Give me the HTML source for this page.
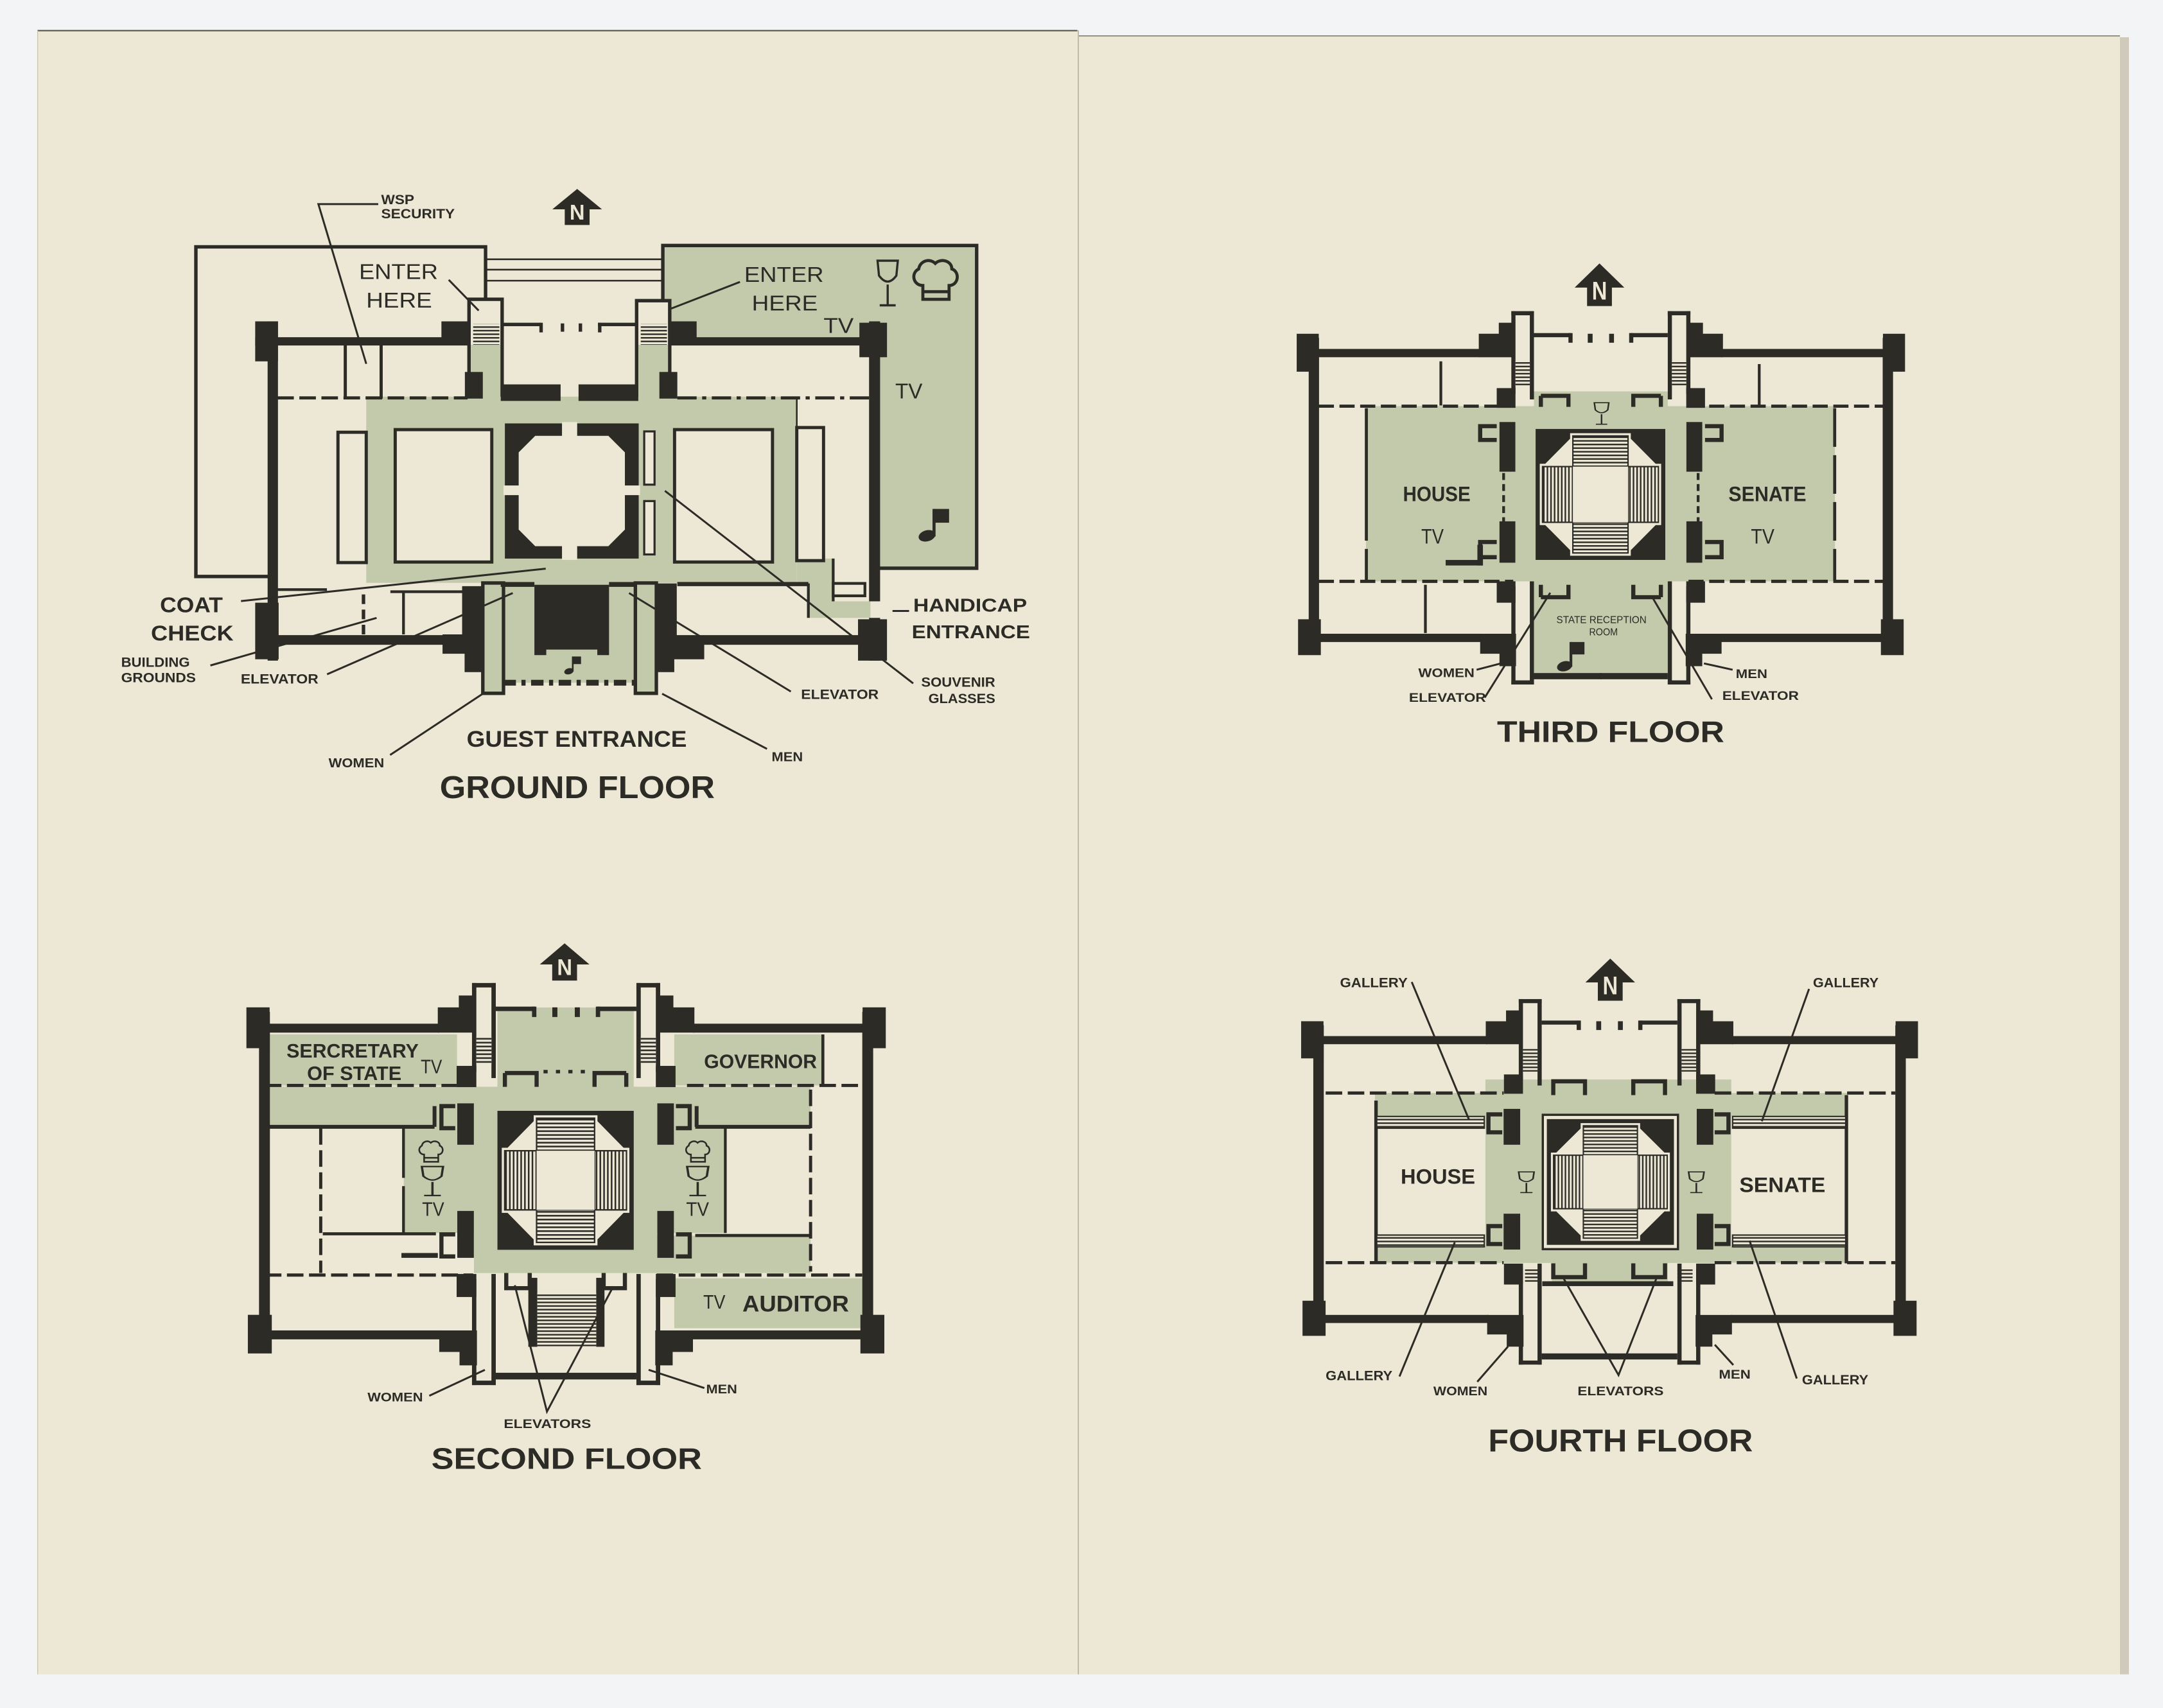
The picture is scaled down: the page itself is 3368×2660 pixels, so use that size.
<!DOCTYPE html>
<html><head><meta charset="utf-8">
<style>
html,body{margin:0;padding:0;background:#f3f4f5;}
svg{display:block}
text{font-family:"Liberation Sans",Arial,sans-serif;fill:#2c2b26}
.b{font-weight:bold}
.k{fill:#2c2b26}
.g{fill:#c3c9ab}
.p{fill:#ece8d5}
.s{fill:none;stroke:#2c2b26}
.ld{fill:none;stroke:#2c2b26;stroke-width:1.4}
</style></head><body>
<svg width="3368" height="2660" viewBox="0 0 1568 1238.4" preserveAspectRatio="none" xmlns="http://www.w3.org/2000/svg" xmlns:xlink="http://www.w3.org/1999/xlink">
<defs>
<pattern id="hs" patternUnits="userSpaceOnUse" width="8" height="2.6"><rect width="8" height="2.6" fill="#ece8d5"/><rect width="8" height="1.1" fill="#2c2b26"/></pattern>
<pattern id="vs" patternUnits="userSpaceOnUse" width="2.6" height="8"><rect width="2.6" height="8" fill="#ece8d5"/><rect width="1.1" height="8" fill="#2c2b26"/></pattern>

<g id="half" class="k">
 <rect x="948.7" y="245" width="7.5" height="226"/>
 <rect x="940" y="242" width="16" height="27.5"/>
 <rect x="941" y="449" width="16.5" height="26"/>
 <rect x="956" y="253" width="117" height="6"/>
 <rect x="956" y="459.5" width="118" height="6"/>
 <polygon points="1072,259 1072,242 1086.5,242 1086.5,234 1097,234 1097,259"/>
 <polygon points="1073,459.5 1099,459.5 1099,483 1087,483 1087,474 1073,474"/>
 <rect x="1085" y="281.4" width="13.6" height="14.3"/>
 <rect x="1085" y="421.5" width="13.6" height="15.5"/>
 <rect x="1095.6" y="225.6" width="3" height="60"/>
 <rect x="1109" y="225.6" width="3" height="64"/>
 <rect x="1095.6" y="225.6" width="16.4" height="3"/>
 <rect x="1095.6" y="425" width="3" height="71.3"/>
 <rect x="1109" y="421.5" width="3" height="74.8"/>
 <rect x="1095.6" y="493.3" width="16.4" height="3"/>
 <rect x="1098.6" y="262" width="10.4" height="18" fill="url(#hs)"/>
 <rect x="1112" y="241.5" width="27" height="3"/>
 <rect x="1137" y="241.5" width="3" height="7"/>
 <rect x="1151" y="242" width="3.5" height="6.5"/>
 <rect x="1112" y="488" width="49" height="4.5"/>
</g>
<g id="shell"><use href="#half" xlink:href="#half"/><use href="#half" xlink:href="#half" transform="matrix(-1 0 0 1 2321 0)"/></g>

<g id="rot">
 <rect x="-47" y="-47" width="94" height="94" class="k"/>
 <polygon class="p" points="-22,-44 22,-44 22,-40 40,-22 44,-22 44,22 40,22 22,40 22,44 -22,44 -22,40 -40,22 -44,22 -44,-22 -40,-22 -22,-40"/>
 <rect x="-20" y="-42" width="40" height="22" fill="url(#hs)" stroke="#2c2b26" stroke-width="1"/>
 <rect x="-20" y="20" width="40" height="22" fill="url(#hs)" stroke="#2c2b26" stroke-width="1"/>
 <rect x="-42" y="-20" width="22" height="40" fill="url(#vs)" stroke="#2c2b26" stroke-width="1"/>
 <rect x="20" y="-20" width="22" height="40" fill="url(#vs)" stroke="#2c2b26" stroke-width="1"/>
 <rect x="-20" y="-20" width="40" height="40" class="p"/>
</g>

<g id="glass" fill="none" stroke="#2c2b26" stroke-width="1.5"><path d="M-7,0 H7 L6,10 Q0,18 -6,10 Z"/><path d="M0,16 V30 M-5.5,30 H5.5"/></g>
<g id="chef" fill="none" stroke="#2c2b26" stroke-width="2.2"><path d="M9,29 V19 C2,19 0,10 6,7 C7,1 14,-1 18,3 C22,-1 30,1 30,7 C36,9 35,19 28,19 V29 Z"/><path d="M9,23.5 H28"/></g>
<g id="note" class="k"><rect x="13" y="0" width="11" height="10"/><rect x="12" y="0" width="2.2" height="20"/><ellipse cx="8" cy="19.5" rx="6.2" ry="4" transform="rotate(-15 8 19.5)"/></g>
<g id="narrow"><polygon class="k" points="0,0 -18,17 -9,17 -9,30 9,30 9,17 18,17"/><text x="-5.5" y="25.5" class="b" font-size="18" textLength="11" lengthAdjust="spacingAndGlyphs" style="fill:#ece8d5">N</text></g>
</defs>

<!-- PAGES -->
<rect x="27" y="21.9" width="754.7" height="1192.1" class="p"/>
<rect x="781.7" y="25.6" width="755.1" height="1188.4" class="p"/>
<rect x="1536.8" y="27" width="6.5" height="1187" fill="#cfcabb"/>
<path d="M27,22.2 H781" stroke="#5a5547" stroke-width="1"/>
<path d="M781.7,26 H1536.8" stroke="#8a8572" stroke-width="0.8"/>
<path d="M781.7,22 V1214" stroke="#bdb8a5" stroke-width="0.9"/>
<path d="M27.3,22 V1214" stroke="#c8c3b0" stroke-width="0.6"/>

<!-- ================= GROUND FLOOR ================= -->
<rect x="480.5" y="178" width="227.5" height="234" class="g" stroke="#2c2b26" stroke-width="2.5"/>
<path d="M197,418 H142 V179 H352 V217" class="s" stroke-width="2.5"/>
<path d="M352,188 H480.5 M352,195.5 H480.5 M352,203.5 H480.5" class="s" stroke-width="1.2"/>
<rect x="197" y="247" width="436" height="216" class="p"/>
<rect x="340" y="217" width="24" height="72" class="p" stroke="#2c2b26" stroke-width="2.5"/>
<rect x="461.5" y="218" width="24" height="71" class="p" stroke="#2c2b26" stroke-width="2.5"/>
<rect x="341.3" y="250" width="21.4" height="40" class="g"/>
<rect x="462.8" y="250" width="21.4" height="40" class="g"/>
<rect x="343" y="235" width="19" height="15" fill="url(#hs)"/>
<rect x="464.5" y="235" width="19" height="15" fill="url(#hs)"/>
<rect x="265.5" y="287.6" width="312" height="135" class="g"/>
<rect x="350" y="422" width="126" height="73" class="g"/>
<polygon class="g" points="577.6,405 604,405 604,436 631,436 631,448 586,448 586,422.5 577.6,422.5"/>
<g class="p" stroke="#2c2b26" stroke-width="2.3">
 <rect x="245" y="313.4" width="20.5" height="94.5"/>
 <rect x="286.5" y="311.5" width="70" height="96"/>
 <rect x="489" y="311.5" width="71" height="96"/>
 <rect x="577.6" y="310" width="19.4" height="96.5"/>
</g>
<g class="p" stroke="#2c2b26" stroke-width="1.5">
 <rect x="467" y="312.8" width="7.5" height="38.6"/>
 <rect x="467" y="363.3" width="7.5" height="38.7"/>
</g>
<rect x="366" y="307" width="97" height="98" class="k"/>
<polygon class="p" points="388,316 441,316 453,328 453,384 441,396 388,396 376,384 376,328"/>
<rect class="p" x="407.4" y="306" width="11" height="11"/>
<rect class="p" x="407.4" y="395" width="11" height="11"/>
<rect class="p" x="365" y="352" width="12" height="7"/>
<rect class="p" x="452" y="352" width="12" height="7"/>
<rect x="350" y="422.7" width="15" height="80" class="g" stroke="#2c2b26" stroke-width="2.5"/>
<rect x="460.6" y="422.7" width="15.2" height="80" class="g" stroke="#2c2b26" stroke-width="2.5"/>
<g class="k">
 <rect x="363" y="278.7" width="43.4" height="12"/>
 <rect x="419.4" y="278.7" width="43.3" height="12"/>
 <rect x="337" y="269.7" width="13" height="19.3"/>
 <rect x="478" y="269.7" width="13" height="19.3"/>
 <rect x="185" y="244.5" width="155" height="6"/>
 <rect x="185" y="233" width="16.5" height="29"/>
 <rect x="320" y="233" width="20" height="17"/>
 <rect x="194" y="233" width="7.5" height="246"/>
 <rect x="185" y="437" width="17" height="41"/>
 <rect x="201" y="460.5" width="120" height="7"/>
 <polygon points="320.8,460 335,460 335,425 351,425 351,487.3 336.8,487.3 336.8,474 320.8,474"/>
 <rect x="486" y="244.5" width="150" height="6"/>
 <rect x="486" y="233" width="19" height="17"/>
 <rect x="630" y="233" width="8" height="203"/>
 <rect x="630" y="448" width="8" height="31"/>
 <rect x="623" y="234" width="20" height="25"/>
 <rect x="622" y="449" width="21" height="30"/>
 <rect x="490" y="460.5" width="140" height="7"/>
 <polygon points="510.5,461 490.6,461 490.6,423 475,423 475,487.3 488.8,487.3 488.8,478 510.5,478"/>
 <polygon points="387.4,424 441.5,424 441.5,475 433,475 433,471 396,471 396,475 387.4,475"/>
 <rect x="363" y="422" width="24.4" height="3.5"/>
 <rect x="441.5" y="422" width="20" height="3.5"/>
 <rect x="365" y="234" width="27" height="2.5"/>
 <rect x="391" y="234" width="2.5" height="7"/>
 <rect x="406.5" y="234.5" width="2.5" height="6"/>
 <rect x="419.5" y="234.5" width="2.5" height="6"/>
 <rect x="433.5" y="234" width="2.5" height="7"/>
 <rect x="433.5" y="234" width="27" height="2.5"/>
</g>
<path class="s" stroke-width="4.2" stroke-dasharray="9 4 3 4" d="M365,495 H460.6"/>
<path class="s" stroke-width="2.3" stroke-dasharray="12 4" d="M201,288.5 H339"/>
<path class="s" stroke-width="2.3" stroke-dasharray="14 4 3 4" d="M491,288.5 H630"/>
<path class="s" stroke-width="2.3" d="M250.3,250 V289 M276.3,250 V289"/>
<path class="s" stroke-width="1.2" d="M577.6,289 V310"/>
<path class="s" stroke-width="2" d="M201,427.5 H237 M283,429 H337 M292.5,429 V460 M586,423 V448 M604,405 V436"/>
<path class="s" stroke-width="3" d="M491,423.5 H586"/>
<path class="s" stroke-width="2.5" stroke-dasharray="7 4" d="M263.5,431 V460"/>
<rect x="604" y="423" width="23" height="9" class="p" stroke="#2c2b26" stroke-width="2"/>
<use href="#glass" xlink:href="#glass" transform="translate(643.5,189) scale(1.05,1.08)"/>
<use href="#chef" xlink:href="#chef" transform="translate(660,188)"/>
<use href="#note" xlink:href="#note" transform="translate(664,369)"/>
<use href="#note" xlink:href="#note" transform="translate(408,476) scale(0.55)"/>
<use href="#narrow" xlink:href="#narrow" transform="translate(418.4,137) scale(1,0.87)"/>

<!-- ground leaders -->
<path class="ld" d="M274.2,148 H230.8 L265.5,263.8"/>
<path class="ld" d="M325.3,202.9 L347,225.2"/>
<path class="ld" d="M536.4,204.4 L486.6,223.7"/>
<path class="ld" d="M174.7,435.8 L395.6,412.3"/>
<path class="ld" d="M152.5,482.5 L273,448"/>
<path class="ld" d="M237.1,488.9 L371.7,430"/>
<path class="ld" d="M573.3,501.4 L456,430"/>
<path class="ld" d="M662,495.5 L482,355.9"/>
<path class="ld" d="M282.8,547.4 L350,503"/>
<path class="ld" d="M556,543 L480,503"/>
<path class="ld" d="M647,443 H659"/>

<!-- ground text -->
<text x="276.3" y="148" class="b" font-size="10" textLength="24" lengthAdjust="spacingAndGlyphs">WSP</text>
<text x="276.3" y="158.4" class="b" font-size="10" textLength="53.4" lengthAdjust="spacingAndGlyphs">SECURITY</text>
<text x="260.3" y="202.3" font-size="15.7" textLength="57.2" lengthAdjust="spacingAndGlyphs">ENTER</text>
<text x="265.5" y="223.1" font-size="15.7" textLength="47.7" lengthAdjust="spacingAndGlyphs">HERE</text>
<text x="539.5" y="204.4" font-size="15.7" textLength="57.6" lengthAdjust="spacingAndGlyphs">ENTER</text>
<text x="545" y="225.2" font-size="15.7" textLength="47.8" lengthAdjust="spacingAndGlyphs">HERE</text>
<text x="597" y="241.5" font-size="15.5" textLength="21.8" lengthAdjust="spacingAndGlyphs">TV</text>
<text x="649" y="289" font-size="15.5" textLength="19.7" lengthAdjust="spacingAndGlyphs">TV</text>
<text x="116" y="444" class="b" font-size="15.5" textLength="45.5" lengthAdjust="spacingAndGlyphs">COAT</text>
<text x="109.4" y="464.3" class="b" font-size="15.5" textLength="59.9" lengthAdjust="spacingAndGlyphs">CHECK</text>
<text x="87.8" y="483.6" class="b" font-size="10" textLength="49.8" lengthAdjust="spacingAndGlyphs">BUILDING</text>
<text x="87.8" y="494.6" class="b" font-size="10" textLength="54.2" lengthAdjust="spacingAndGlyphs">GROUNDS</text>
<text x="174.5" y="495.5" class="b" font-size="10" textLength="56.3" lengthAdjust="spacingAndGlyphs">ELEVATOR</text>
<text x="662" y="443.5" class="b" font-size="13.5" textLength="82.5" lengthAdjust="spacingAndGlyphs">HANDICAP</text>
<text x="660.9" y="462.8" class="b" font-size="13.5" textLength="85.8" lengthAdjust="spacingAndGlyphs">ENTRANCE</text>
<text x="580.7" y="506.8" class="b" font-size="10" textLength="56.3" lengthAdjust="spacingAndGlyphs">ELEVATOR</text>
<text x="667.8" y="497.9" class="b" font-size="10" textLength="53.7" lengthAdjust="spacingAndGlyphs">SOUVENIR</text>
<text x="673" y="509.7" class="b" font-size="10" textLength="48.5" lengthAdjust="spacingAndGlyphs">GLASSES</text>
<text x="338.3" y="541.5" class="b" font-size="16.5" textLength="159.6" lengthAdjust="spacingAndGlyphs">GUEST ENTRANCE</text>
<text x="238.2" y="556.4" class="b" font-size="9.5" textLength="40.3" lengthAdjust="spacingAndGlyphs">WOMEN</text>
<text x="559.4" y="551.9" class="b" font-size="9.5" textLength="22.6" lengthAdjust="spacingAndGlyphs">MEN</text>
<text x="318.8" y="578.6" class="b" font-size="22.7" textLength="199.4" lengthAdjust="spacingAndGlyphs">GROUND FLOOR</text>

<!-- ================= THIRD FLOOR ================= -->
<rect x="990.2" y="294.5" width="340" height="127" class="g"/>
<rect x="1112" y="283.8" width="97" height="12" class="g"/>
<rect x="1112" y="421" width="97" height="67.5" class="g"/>
<path class="s" stroke-width="2.3" stroke-dasharray="11 4" d="M956,294.5 H1097 M1224,294.5 H1365 M956,421.5 H1097 M1224,421.5 H1365"/>
<path class="s" stroke-width="2.2" d="M990.5,296 V392 M990.5,398 V421"/>
<path class="s" stroke-width="2.2" stroke-dasharray="28 6" d="M1330,296 V421"/>
<path class="s" stroke-width="2" d="M1044.5,262 V294 M1275.3,264 V294 M1033.3,424 V459"/>
<g class="k"><rect x="1048" y="406" width="27" height="4"/><rect x="1071" y="395" width="4" height="15"/>
 <rect x="1087" y="306" width="11.5" height="36"/><rect x="1087" y="378" width="11.5" height="30"/>
 <rect x="1222.5" y="306" width="11.5" height="36"/><rect x="1222.5" y="378" width="11.5" height="30"/></g>
<path class="s" stroke-width="3" d="M1085,309 H1073 V319 H1085 M1085,393 H1073 V404 H1085 M1236,309 H1248 V319 H1236 M1236,393 H1248 V404 H1236"/>
<path class="s" stroke-width="3" d="M1117,287 H1137 V295 M1117,287 V295 M1204,287 H1184 V295 M1204,287 V295 M1117,433 H1137 V424 M1117,433 V424 M1204,433 H1184 V424 M1204,433 V424"/>
<path class="s" stroke-width="2" stroke-dasharray="5 3" d="M1090,343 V379 M1231,343 V379"/>
<use href="#rot" xlink:href="#rot" transform="translate(1160.2,358.5) scale(1,1.01)"/>
<use href="#shell" xlink:href="#shell"/>
<use href="#glass" xlink:href="#glass" transform="translate(1161,292) scale(0.75,0.52)"/>
<use href="#note" xlink:href="#note" transform="translate(1127,465.5) scale(0.9)"/>
<use href="#narrow" xlink:href="#narrow" transform="translate(1159.5,191) scale(1,1.03)"/>
<path class="ld" d="M1070.4,485.6 L1088,481"/>
<path class="ld" d="M1076.3,505.8 L1123.8,429.8"/>
<path class="ld" d="M1256,485.6 L1235.2,481"/>
<path class="ld" d="M1241,507 L1198,433.4"/>
<text x="1017" y="363.3" class="b" font-size="15" textLength="49" lengthAdjust="spacingAndGlyphs">HOUSE</text>
<text x="1030.3" y="394.2" font-size="15" textLength="16.3" lengthAdjust="spacingAndGlyphs">TV</text>
<text x="1253" y="363.3" class="b" font-size="15" textLength="56.4" lengthAdjust="spacingAndGlyphs">SENATE</text>
<text x="1269.3" y="394.2" font-size="15" textLength="17" lengthAdjust="spacingAndGlyphs">TV</text>
<text x="1128.3" y="451.9" font-size="7.5" textLength="65.3" lengthAdjust="spacingAndGlyphs">STATE RECEPTION</text>
<text x="1152" y="460.7" font-size="7.5" textLength="20.8" lengthAdjust="spacingAndGlyphs">ROOM</text>
<text x="1028.2" y="490.9" class="b" font-size="9" textLength="40.7" lengthAdjust="spacingAndGlyphs">WOMEN</text>
<text x="1021.4" y="508.9" class="b" font-size="9" textLength="55.8" lengthAdjust="spacingAndGlyphs">ELEVATOR</text>
<text x="1258.3" y="491.6" class="b" font-size="9" textLength="22.9" lengthAdjust="spacingAndGlyphs">MEN</text>
<text x="1248.5" y="507.5" class="b" font-size="9" textLength="55.5" lengthAdjust="spacingAndGlyphs">ELEVATOR</text>
<text x="1085.2" y="537.9" class="b" font-size="21.5" textLength="164.8" lengthAdjust="spacingAndGlyphs">THIRD FLOOR</text>

<!-- ================= SECOND FLOOR ================= -->
<rect x="192.3" y="750" width="139" height="37" class="g"/>
<rect x="192.3" y="788" width="395.3" height="28" class="g"/>
<rect x="360.6" y="730.5" width="98.8" height="58.5" class="g"/>
<rect x="488.8" y="750" width="106.5" height="37" class="g"/>
<rect x="292.7" y="815" width="233.1" height="79" class="g"/>
<rect x="343.6" y="788" width="132.8" height="135" class="g"/>
<rect x="343.6" y="896" width="244" height="27" class="g"/>
<rect x="488.8" y="926.8" width="137.4" height="36.2" class="g"/>
<path class="s" stroke-width="2.3" stroke-dasharray="12 4" d="M192,787 H331 M192,924.5 H343 M498,787 H625 M476,924.5 H625 M232.5,818 V923 M587.6,790 V922"/>
<path class="s" stroke-width="2.2" d="M234,894.6 H316 M596.5,750 V787 M504,895.8 H587.6"/>
<path class="s" stroke-width="2.8" d="M193,817 H315 M315,802 V817 M504,817 H587.6 M505,802 V817"/>
<path class="s" stroke-width="2" d="M292.5,818 V854 M292.5,860 V894 M525.8,818 V894"/>
<rect class="k" x="291" y="908.5" width="26.4" height="3.5"/>
<g class="k">
 <rect x="331.5" y="800" width="12" height="30"/><rect x="331.5" y="878" width="12" height="34"/>
 <rect x="476.5" y="800" width="12" height="30"/><rect x="476.5" y="878" width="12" height="34"/>
 <rect x="383" y="926.5" width="6.5" height="50"/><rect x="432.2" y="926.5" width="6" height="50"/>
</g>
<path class="s" stroke-width="3" d="M330,802 H320 V818 H330 M330,895 H320 V911 H330 M490,802 H500 V818 H490 M490,895 H500 V911 H490"/>
<path class="s" stroke-width="3" d="M366,778 H389 V788 M366,778 V788 M454,778 H431 V788 M454,778 V788 M367,923 V934 H384 V923 M453,923 V934 H437.6 V923"/>
<path class="s" stroke-width="2.5" stroke-dasharray="3 6" d="M394,777 H430"/>
<rect x="389.5" y="937.3" width="42.7" height="38.8" fill="url(#hs)"/>
<use href="#rot" xlink:href="#rot" transform="translate(410,855.8) scale(1.051,1.072)"/>
<use href="#shell" xlink:href="#shell" transform="translate(410.9,856.4) scale(1.051,1.077) translate(-1161,-359)"/>
<use href="#chef" xlink:href="#chef" transform="translate(302.6,827) scale(0.54,0.53)"/>
<use href="#glass" xlink:href="#glass" transform="translate(313.5,845.8) scale(1.1,0.7)"/>
<use href="#chef" xlink:href="#chef" transform="translate(496,827) scale(0.54,0.53)"/>
<use href="#glass" xlink:href="#glass" transform="translate(505.8,845.8) scale(1.1,0.7)"/>
<use href="#narrow" xlink:href="#narrow" transform="translate(409.3,684) scale(1,0.9)"/>
<path class="ld" d="M311.2,1012 L351.5,993.2"/>
<path class="ld" d="M510.6,1006.4 L470.2,993.2"/>
<path class="ld" d="M373.2,931.9 L396.5,1023.5 L444.6,932.7"/>
<text x="207.7" y="766.7" class="b" font-size="14.3" textLength="95.8" lengthAdjust="spacingAndGlyphs">SERCRETARY</text>
<text x="222.6" y="783" class="b" font-size="14.3" textLength="68.5" lengthAdjust="spacingAndGlyphs">OF STATE</text>
<text x="305" y="778.3" font-size="14.3" textLength="15.5" lengthAdjust="spacingAndGlyphs">TV</text>
<text x="510.4" y="774.4" class="b" font-size="14.3" textLength="81.8" lengthAdjust="spacingAndGlyphs">GOVERNOR</text>
<text x="306" y="881.6" font-size="14.3" textLength="16" lengthAdjust="spacingAndGlyphs">TV</text>
<text x="497.4" y="881.6" font-size="14.3" textLength="16.6" lengthAdjust="spacingAndGlyphs">TV</text>
<text x="509.8" y="948.8" font-size="14.3" textLength="16" lengthAdjust="spacingAndGlyphs">TV</text>
<text x="538.2" y="950.9" class="b" font-size="16.5" textLength="77.2" lengthAdjust="spacingAndGlyphs">AUDITOR</text>
<text x="266.4" y="1016" class="b" font-size="9" textLength="40.2" lengthAdjust="spacingAndGlyphs">WOMEN</text>
<text x="511.9" y="1010.3" class="b" font-size="9" textLength="22.5" lengthAdjust="spacingAndGlyphs">MEN</text>
<text x="365.2" y="1035.3" class="b" font-size="9" textLength="63.3" lengthAdjust="spacingAndGlyphs">ELEVATORS</text>
<text x="312.7" y="1065" class="b" font-size="21.6" textLength="196.1" lengthAdjust="spacingAndGlyphs">SECOND FLOOR</text>

<!-- ================= FOURTH FLOOR ================= -->
<rect x="996.7" y="792.5" width="343" height="17" class="g"/>
<rect x="996.7" y="903" width="343" height="12.5" class="g"/>
<rect x="1076.8" y="782.7" width="178.2" height="133" class="g"/>
<rect x="1125" y="915" width="84" height="14" class="g"/>
<path class="s" stroke-width="2.3" stroke-dasharray="12 4" d="M961,792.5 H1090 M1243,792.5 H1374 M961,915.5 H1090 M1243,915.5 H1374"/>
<path class="s" stroke-width="2.5" d="M997.5,798 V916 M1338.5,794 V916"/>
<g stroke="#2c2b26" stroke-width="1">
 <rect x="998" y="809.5" width="78" height="8.5" fill="url(#hs)"/>
 <rect x="998" y="895.5" width="78" height="8.5" fill="url(#hs)"/>
 <rect x="1256" y="809.5" width="82" height="8.5" fill="url(#hs)"/>
 <rect x="1256" y="895.5" width="82" height="8.5" fill="url(#hs)"/>
</g>
<rect x="1118.4" y="808.3" width="98" height="97.4" class="p" stroke="#2c2b26" stroke-width="1.6"/>
<use href="#rot" xlink:href="#rot" transform="translate(1167.4,857) scale(0.98,0.97)"/>
<g class="k">
 <rect x="1090" y="804" width="12" height="26"/><rect x="1090" y="880" width="12" height="26"/>
 <rect x="1230" y="804" width="12" height="26"/><rect x="1230" y="880" width="12" height="26"/>
 <rect x="1118" y="929" width="95" height="3.5"/>
</g>
<path class="s" stroke-width="3" d="M1089,808 H1079 V821 H1089 M1089,889 H1079 V902 H1089 M1243,808 H1253 V821 H1243 M1243,889 H1253 V902 H1243"/>
<path class="s" stroke-width="3" d="M1126,916 V926 H1149 V916 M1184,916 V926 H1207 V916 M1126,794 V784 H1149 V794 M1184,794 V784 H1207 V794"/>
<rect x="1105.5" y="919" width="11" height="11" fill="url(#hs)"/>
<rect x="1216" y="919" width="11" height="11" fill="url(#hs)"/>
<use href="#shell" xlink:href="#shell" transform="translate(1167.3,855) scale(1.014,0.979) translate(-1161,-359)"/>
<use href="#glass" xlink:href="#glass" transform="translate(1106.5,849.7) scale(0.8,0.5)"/>
<use href="#glass" xlink:href="#glass" transform="translate(1229.7,849.7) scale(0.8,0.5)"/>
<use href="#narrow" xlink:href="#narrow" transform="translate(1167.3,695) scale(1,1.02)"/>
<path class="ld" d="M1023.4,712 L1065,812"/>
<path class="ld" d="M1311.4,717 L1277.2,813"/>
<path class="ld" d="M1014.5,998 L1054.6,900.8"/>
<path class="ld" d="M1302.5,999.5 L1268.3,899.6"/>
<path class="ld" d="M1070.9,1001.9 L1093.2,976.3"/>
<path class="ld" d="M1256.5,989.7 L1243.1,975"/>
<path class="ld" d="M1133.2,926.4 L1173.3,997 L1201.5,925"/>
<text x="971.4" y="715.8" class="b" font-size="10" textLength="49" lengthAdjust="spacingAndGlyphs">GALLERY</text>
<text x="1314.3" y="715.8" class="b" font-size="10" textLength="47.5" lengthAdjust="spacingAndGlyphs">GALLERY</text>
<text x="1015.4" y="858.2" class="b" font-size="15.2" textLength="54" lengthAdjust="spacingAndGlyphs">HOUSE</text>
<text x="1260.9" y="864.3" class="b" font-size="15.2" textLength="62.4" lengthAdjust="spacingAndGlyphs">SENATE</text>
<text x="961" y="1000.7" class="b" font-size="10" textLength="48.4" lengthAdjust="spacingAndGlyphs">GALLERY</text>
<text x="1039.1" y="1011.6" class="b" font-size="9" textLength="39.2" lengthAdjust="spacingAndGlyphs">WOMEN</text>
<text x="1143.6" y="1011.6" class="b" font-size="9" textLength="62.4" lengthAdjust="spacingAndGlyphs">ELEVATORS</text>
<text x="1246" y="999.5" class="b" font-size="9" textLength="23" lengthAdjust="spacingAndGlyphs">MEN</text>
<text x="1306.3" y="1003.8" class="b" font-size="10" textLength="48.1" lengthAdjust="spacingAndGlyphs">GALLERY</text>
<text x="1078.9" y="1052.3" class="b" font-size="22.7" textLength="191.8" lengthAdjust="spacingAndGlyphs">FOURTH FLOOR</text>
</svg>
</body></html>
